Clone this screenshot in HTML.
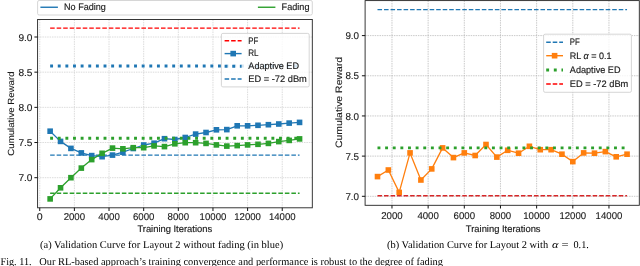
<!DOCTYPE html><html><head><meta charset="utf-8"><style>html,body{margin:0;padding:0;background:#fff;width:640px;height:266px;overflow:hidden}svg{display:block;will-change:transform}text{text-rendering:geometricPrecision}</style></head><body>
<svg width="640" height="266" viewBox="0 0 640 266">
<rect width="640" height="266" fill="#fff"/>
<line x1="39.75" y1="19.5" x2="39.75" y2="207.8" stroke="#d0d0d0" stroke-width="0.75" stroke-dasharray="1.5 0.9"/>
<line x1="74.39" y1="19.5" x2="74.39" y2="207.8" stroke="#d0d0d0" stroke-width="0.75" stroke-dasharray="1.5 0.9"/>
<line x1="109.03" y1="19.5" x2="109.03" y2="207.8" stroke="#d0d0d0" stroke-width="0.75" stroke-dasharray="1.5 0.9"/>
<line x1="143.68" y1="19.5" x2="143.68" y2="207.8" stroke="#d0d0d0" stroke-width="0.75" stroke-dasharray="1.5 0.9"/>
<line x1="178.32" y1="19.5" x2="178.32" y2="207.8" stroke="#d0d0d0" stroke-width="0.75" stroke-dasharray="1.5 0.9"/>
<line x1="212.96" y1="19.5" x2="212.96" y2="207.8" stroke="#d0d0d0" stroke-width="0.75" stroke-dasharray="1.5 0.9"/>
<line x1="247.6" y1="19.5" x2="247.6" y2="207.8" stroke="#d0d0d0" stroke-width="0.75" stroke-dasharray="1.5 0.9"/>
<line x1="282.24" y1="19.5" x2="282.24" y2="207.8" stroke="#d0d0d0" stroke-width="0.75" stroke-dasharray="1.5 0.9"/>
<line x1="37.6" y1="177.7" x2="312.3" y2="177.7" stroke="#d0d0d0" stroke-width="0.75" stroke-dasharray="1.5 0.9"/>
<line x1="37.6" y1="142.52" x2="312.3" y2="142.52" stroke="#d0d0d0" stroke-width="0.75" stroke-dasharray="1.5 0.9"/>
<line x1="37.6" y1="107.35" x2="312.3" y2="107.35" stroke="#d0d0d0" stroke-width="0.75" stroke-dasharray="1.5 0.9"/>
<line x1="37.6" y1="72.17" x2="312.3" y2="72.17" stroke="#d0d0d0" stroke-width="0.75" stroke-dasharray="1.5 0.9"/>
<line x1="37.6" y1="37" x2="312.3" y2="37" stroke="#d0d0d0" stroke-width="0.75" stroke-dasharray="1.5 0.9"/>
<line x1="50.14" y1="28.1" x2="299.56" y2="28.1" stroke="#ff0000" stroke-width="1.4" stroke-dasharray="4.55 1.97" stroke-linecap="butt"/>
<line x1="50.14" y1="66" x2="299.56" y2="66" stroke="#1f77b4" stroke-width="2.9" stroke-dasharray="2.9 4.73" stroke-linecap="butt"/>
<line x1="50.14" y1="155.1" x2="299.56" y2="155.1" stroke="#1f77b4" stroke-width="1.4" stroke-dasharray="4.55 1.97" stroke-linecap="butt"/>
<polyline points="50.14,131.2 60.54,141.4 70.93,148.4 81.32,152.9 91.71,155.6 102.11,156.7 112.5,155.1 122.89,152.2 133.28,148.5 143.68,145 154.07,143.2 164.46,138.7 174.85,139.5 185.25,137.5 195.64,134.1 206.03,132.5 216.42,129.8 226.82,129.6 237.21,125.8 247.6,125.8 257.99,125.3 268.39,124.7 278.78,124 289.17,123.1 299.56,122.4" fill="none" stroke="#1f77b4" stroke-width="1.3" stroke-linejoin="round"/>
<rect x="47.34" y="128.4" width="5.6" height="5.6" fill="#1f77b4"/>
<rect x="57.74" y="138.6" width="5.6" height="5.6" fill="#1f77b4"/>
<rect x="68.13" y="145.6" width="5.6" height="5.6" fill="#1f77b4"/>
<rect x="78.52" y="150.1" width="5.6" height="5.6" fill="#1f77b4"/>
<rect x="88.91" y="152.8" width="5.6" height="5.6" fill="#1f77b4"/>
<rect x="99.31" y="153.9" width="5.6" height="5.6" fill="#1f77b4"/>
<rect x="109.7" y="152.3" width="5.6" height="5.6" fill="#1f77b4"/>
<rect x="120.09" y="149.4" width="5.6" height="5.6" fill="#1f77b4"/>
<rect x="130.48" y="145.7" width="5.6" height="5.6" fill="#1f77b4"/>
<rect x="140.88" y="142.2" width="5.6" height="5.6" fill="#1f77b4"/>
<rect x="151.27" y="140.4" width="5.6" height="5.6" fill="#1f77b4"/>
<rect x="161.66" y="135.9" width="5.6" height="5.6" fill="#1f77b4"/>
<rect x="172.05" y="136.7" width="5.6" height="5.6" fill="#1f77b4"/>
<rect x="182.45" y="134.7" width="5.6" height="5.6" fill="#1f77b4"/>
<rect x="192.84" y="131.3" width="5.6" height="5.6" fill="#1f77b4"/>
<rect x="203.23" y="129.7" width="5.6" height="5.6" fill="#1f77b4"/>
<rect x="213.62" y="127" width="5.6" height="5.6" fill="#1f77b4"/>
<rect x="224.02" y="126.8" width="5.6" height="5.6" fill="#1f77b4"/>
<rect x="234.41" y="123" width="5.6" height="5.6" fill="#1f77b4"/>
<rect x="244.8" y="123" width="5.6" height="5.6" fill="#1f77b4"/>
<rect x="255.19" y="122.5" width="5.6" height="5.6" fill="#1f77b4"/>
<rect x="265.59" y="121.9" width="5.6" height="5.6" fill="#1f77b4"/>
<rect x="275.98" y="121.2" width="5.6" height="5.6" fill="#1f77b4"/>
<rect x="286.37" y="120.3" width="5.6" height="5.6" fill="#1f77b4"/>
<rect x="296.76" y="119.6" width="5.6" height="5.6" fill="#1f77b4"/>
<line x1="50.14" y1="138.2" x2="299.56" y2="138.2" stroke="#2ca02c" stroke-width="2.9" stroke-dasharray="2.9 4.73" stroke-linecap="butt"/>
<line x1="50.14" y1="193.3" x2="299.56" y2="193.3" stroke="#2ca02c" stroke-width="1.4" stroke-dasharray="4.55 1.97" stroke-linecap="butt"/>
<polyline points="50.14,198.9 60.54,187.8 70.93,177.7 81.32,168.1 91.71,159.6 102.11,153.3 112.5,148.1 122.89,148.8 133.28,147.7 143.68,147.7 154.07,145.9 164.46,146.6 174.85,143.8 185.25,142.7 195.64,142.7 206.03,143.4 216.42,144.9 226.82,146.1 237.21,145.6 247.6,144.9 257.99,144.3 268.39,143.4 278.78,141.6 289.17,140.4 299.56,138.9" fill="none" stroke="#2ca02c" stroke-width="1.3" stroke-linejoin="round"/>
<rect x="47.34" y="196.1" width="5.6" height="5.6" fill="#2ca02c"/>
<rect x="57.74" y="185" width="5.6" height="5.6" fill="#2ca02c"/>
<rect x="68.13" y="174.9" width="5.6" height="5.6" fill="#2ca02c"/>
<rect x="78.52" y="165.3" width="5.6" height="5.6" fill="#2ca02c"/>
<rect x="88.91" y="156.8" width="5.6" height="5.6" fill="#2ca02c"/>
<rect x="99.31" y="150.5" width="5.6" height="5.6" fill="#2ca02c"/>
<rect x="109.7" y="145.3" width="5.6" height="5.6" fill="#2ca02c"/>
<rect x="120.09" y="146" width="5.6" height="5.6" fill="#2ca02c"/>
<rect x="130.48" y="144.9" width="5.6" height="5.6" fill="#2ca02c"/>
<rect x="140.88" y="144.9" width="5.6" height="5.6" fill="#2ca02c"/>
<rect x="151.27" y="143.1" width="5.6" height="5.6" fill="#2ca02c"/>
<rect x="161.66" y="143.8" width="5.6" height="5.6" fill="#2ca02c"/>
<rect x="172.05" y="141" width="5.6" height="5.6" fill="#2ca02c"/>
<rect x="182.45" y="139.9" width="5.6" height="5.6" fill="#2ca02c"/>
<rect x="192.84" y="139.9" width="5.6" height="5.6" fill="#2ca02c"/>
<rect x="203.23" y="140.6" width="5.6" height="5.6" fill="#2ca02c"/>
<rect x="213.62" y="142.1" width="5.6" height="5.6" fill="#2ca02c"/>
<rect x="224.02" y="143.3" width="5.6" height="5.6" fill="#2ca02c"/>
<rect x="234.41" y="142.8" width="5.6" height="5.6" fill="#2ca02c"/>
<rect x="244.8" y="142.1" width="5.6" height="5.6" fill="#2ca02c"/>
<rect x="255.19" y="141.5" width="5.6" height="5.6" fill="#2ca02c"/>
<rect x="265.59" y="140.6" width="5.6" height="5.6" fill="#2ca02c"/>
<rect x="275.98" y="138.8" width="5.6" height="5.6" fill="#2ca02c"/>
<rect x="286.37" y="137.6" width="5.6" height="5.6" fill="#2ca02c"/>
<rect x="296.76" y="136.1" width="5.6" height="5.6" fill="#2ca02c"/>
<rect x="37.6" y="19.5" width="274.7" height="188.3" fill="none" stroke="#222" stroke-width="0.9"/>
<line x1="39.75" y1="207.8" x2="39.75" y2="211" stroke="#111" stroke-width="1.0"/>
<text x="39.75" y="220.2" font-size="9.85" text-anchor="middle" textLength="5.9" lengthAdjust="spacingAndGlyphs" fill="#1a1a1a" font-family='"Liberation Sans", sans-serif'  stroke="#1a1a1a" stroke-width="0.12">0</text>
<line x1="74.39" y1="207.8" x2="74.39" y2="211" stroke="#111" stroke-width="1.0"/>
<text x="74.39" y="220.2" font-size="9.85" text-anchor="middle" textLength="21.5" lengthAdjust="spacingAndGlyphs" fill="#1a1a1a" font-family='"Liberation Sans", sans-serif'  stroke="#1a1a1a" stroke-width="0.12">2000</text>
<line x1="109.03" y1="207.8" x2="109.03" y2="211" stroke="#111" stroke-width="1.0"/>
<text x="109.03" y="220.2" font-size="9.85" text-anchor="middle" textLength="21.5" lengthAdjust="spacingAndGlyphs" fill="#1a1a1a" font-family='"Liberation Sans", sans-serif'  stroke="#1a1a1a" stroke-width="0.12">4000</text>
<line x1="143.68" y1="207.8" x2="143.68" y2="211" stroke="#111" stroke-width="1.0"/>
<text x="143.68" y="220.2" font-size="9.85" text-anchor="middle" textLength="21.5" lengthAdjust="spacingAndGlyphs" fill="#1a1a1a" font-family='"Liberation Sans", sans-serif'  stroke="#1a1a1a" stroke-width="0.12">6000</text>
<line x1="178.32" y1="207.8" x2="178.32" y2="211" stroke="#111" stroke-width="1.0"/>
<text x="178.32" y="220.2" font-size="9.85" text-anchor="middle" textLength="21.5" lengthAdjust="spacingAndGlyphs" fill="#1a1a1a" font-family='"Liberation Sans", sans-serif'  stroke="#1a1a1a" stroke-width="0.12">8000</text>
<line x1="212.96" y1="207.8" x2="212.96" y2="211" stroke="#111" stroke-width="1.0"/>
<text x="212.96" y="220.2" font-size="9.85" text-anchor="middle" textLength="26.7" lengthAdjust="spacingAndGlyphs" fill="#1a1a1a" font-family='"Liberation Sans", sans-serif'  stroke="#1a1a1a" stroke-width="0.12">10000</text>
<line x1="247.6" y1="207.8" x2="247.6" y2="211" stroke="#111" stroke-width="1.0"/>
<text x="247.6" y="220.2" font-size="9.85" text-anchor="middle" textLength="26.7" lengthAdjust="spacingAndGlyphs" fill="#1a1a1a" font-family='"Liberation Sans", sans-serif'  stroke="#1a1a1a" stroke-width="0.12">12000</text>
<line x1="282.24" y1="207.8" x2="282.24" y2="211" stroke="#111" stroke-width="1.0"/>
<text x="282.24" y="220.2" font-size="9.85" text-anchor="middle" textLength="26.7" lengthAdjust="spacingAndGlyphs" fill="#1a1a1a" font-family='"Liberation Sans", sans-serif'  stroke="#1a1a1a" stroke-width="0.12">14000</text>
<line x1="34.4" y1="177.7" x2="37.6" y2="177.7" stroke="#111" stroke-width="1.0"/>
<text x="32.5" y="181.4" font-size="9.85" text-anchor="end" textLength="14.1" lengthAdjust="spacingAndGlyphs" fill="#1a1a1a" font-family='"Liberation Sans", sans-serif'  stroke="#1a1a1a" stroke-width="0.12">7.0</text>
<line x1="34.4" y1="142.52" x2="37.6" y2="142.52" stroke="#111" stroke-width="1.0"/>
<text x="32.5" y="146.22" font-size="9.85" text-anchor="end" textLength="14.1" lengthAdjust="spacingAndGlyphs" fill="#1a1a1a" font-family='"Liberation Sans", sans-serif'  stroke="#1a1a1a" stroke-width="0.12">7.5</text>
<line x1="34.4" y1="107.35" x2="37.6" y2="107.35" stroke="#111" stroke-width="1.0"/>
<text x="32.5" y="111.05" font-size="9.85" text-anchor="end" textLength="14.1" lengthAdjust="spacingAndGlyphs" fill="#1a1a1a" font-family='"Liberation Sans", sans-serif'  stroke="#1a1a1a" stroke-width="0.12">8.0</text>
<line x1="34.4" y1="72.17" x2="37.6" y2="72.17" stroke="#111" stroke-width="1.0"/>
<text x="32.5" y="75.88" font-size="9.85" text-anchor="end" textLength="14.1" lengthAdjust="spacingAndGlyphs" fill="#1a1a1a" font-family='"Liberation Sans", sans-serif'  stroke="#1a1a1a" stroke-width="0.12">8.5</text>
<line x1="34.4" y1="37" x2="37.6" y2="37" stroke="#111" stroke-width="1.0"/>
<text x="32.5" y="40.7" font-size="9.85" text-anchor="end" textLength="14.1" lengthAdjust="spacingAndGlyphs" fill="#1a1a1a" font-family='"Liberation Sans", sans-serif'  stroke="#1a1a1a" stroke-width="0.12">9.0</text>
<text x="174.75" y="232.3" font-size="9.4" text-anchor="middle" textLength="74.7" lengthAdjust="spacingAndGlyphs" fill="#1a1a1a" font-family='"Liberation Sans", sans-serif'  stroke="#1a1a1a" stroke-width="0.16">Training Iterations</text>
<g transform="translate(14,113.6) rotate(-90)">
<text x="0" y="0" font-size="8.84" text-anchor="middle" textLength="84.2" lengthAdjust="spacingAndGlyphs" fill="#1a1a1a" font-family='"Liberation Sans", sans-serif'  stroke="#1a1a1a" stroke-width="0.1">Cumulative Reward</text>
</g>
<rect x="221.4" y="33.4" width="87.8" height="53.5" rx="1.5" fill="#fff" fill-opacity="0.8" stroke="#cccccc" stroke-width="0.8"/>
<line x1="224.6" y1="40.7" x2="241.6" y2="40.7" stroke="#ff0000" stroke-width="1.4" stroke-dasharray="4.55 1.97" stroke-linecap="butt"/>
<line x1="224.6" y1="53.6" x2="241.6" y2="53.6" stroke="#1f77b4" stroke-width="1.4"/>
<rect x="230.4" y="50.8" width="5.6" height="5.6" fill="#1f77b4"/>
<line x1="224.6" y1="66.3" x2="241.6" y2="66.3" stroke="#1f77b4" stroke-width="2.9" stroke-dasharray="2.9 4.73" stroke-linecap="butt"/>
<line x1="224.6" y1="79" x2="241.6" y2="79" stroke="#1f77b4" stroke-width="1.4" stroke-dasharray="4.55 1.97" stroke-linecap="butt"/>
<text x="248.3" y="43.6" font-size="9.4" text-anchor="start" textLength="10" lengthAdjust="spacingAndGlyphs" fill="#1a1a1a" font-family='"Liberation Sans", sans-serif'  stroke="#1a1a1a" stroke-width="0.16">PF</text>
<text x="248.3" y="56" font-size="9.4" text-anchor="start" textLength="10.3" lengthAdjust="spacingAndGlyphs" fill="#1a1a1a" font-family='"Liberation Sans", sans-serif'  stroke="#1a1a1a" stroke-width="0.16">RL</text>
<text x="248.3" y="69" font-size="9.4" text-anchor="start" textLength="50.7" lengthAdjust="spacingAndGlyphs" fill="#1a1a1a" font-family='"Liberation Sans", sans-serif'  stroke="#1a1a1a" stroke-width="0.16">Adaptive ED</text>
<text x="248.3" y="81.7" font-size="9.4" text-anchor="start" textLength="58.5" lengthAdjust="spacingAndGlyphs" fill="#1a1a1a" font-family='"Liberation Sans", sans-serif'  stroke="#1a1a1a" stroke-width="0.16">ED = -72 dBm</text>
<rect x="37.6" y="0.5" width="274.7" height="14.5" rx="1.5" fill="#fff" stroke="#cccccc" stroke-width="0.8"/>
<line x1="40.4" y1="7.25" x2="57.9" y2="7.25" stroke="#1f77b4" stroke-width="1.4" stroke-linecap="butt"/>
<text x="64.1" y="10.4" font-size="9.4" text-anchor="start" textLength="41.7" lengthAdjust="spacingAndGlyphs" fill="#1a1a1a" font-family='"Liberation Sans", sans-serif'  stroke="#1a1a1a" stroke-width="0.16">No Fading</text>
<line x1="257.9" y1="7.25" x2="275.4" y2="7.25" stroke="#2ca02c" stroke-width="1.4" stroke-linecap="butt"/>
<text x="281.6" y="10.4" font-size="9.4" text-anchor="start" textLength="27.9" lengthAdjust="spacingAndGlyphs" fill="#1a1a1a" font-family='"Liberation Sans", sans-serif'  stroke="#1a1a1a" stroke-width="0.16">Fading</text>
<line x1="391.97" y1="0.6" x2="391.97" y2="205.3" stroke="#b8b8b8" stroke-width="0.75" stroke-dasharray="1.5 0.9"/>
<line x1="428.13" y1="0.6" x2="428.13" y2="205.3" stroke="#b8b8b8" stroke-width="0.75" stroke-dasharray="1.5 0.9"/>
<line x1="464.3" y1="0.6" x2="464.3" y2="205.3" stroke="#b8b8b8" stroke-width="0.75" stroke-dasharray="1.5 0.9"/>
<line x1="500.46" y1="0.6" x2="500.46" y2="205.3" stroke="#b8b8b8" stroke-width="0.75" stroke-dasharray="1.5 0.9"/>
<line x1="536.63" y1="0.6" x2="536.63" y2="205.3" stroke="#b8b8b8" stroke-width="0.75" stroke-dasharray="1.5 0.9"/>
<line x1="572.8" y1="0.6" x2="572.8" y2="205.3" stroke="#b8b8b8" stroke-width="0.75" stroke-dasharray="1.5 0.9"/>
<line x1="608.96" y1="0.6" x2="608.96" y2="205.3" stroke="#b8b8b8" stroke-width="0.75" stroke-dasharray="1.5 0.9"/>
<line x1="365.1" y1="196.3" x2="639.3" y2="196.3" stroke="#b8b8b8" stroke-width="0.75" stroke-dasharray="1.5 0.9"/>
<line x1="365.1" y1="156.12" x2="639.3" y2="156.12" stroke="#b8b8b8" stroke-width="0.75" stroke-dasharray="1.5 0.9"/>
<line x1="365.1" y1="115.95" x2="639.3" y2="115.95" stroke="#b8b8b8" stroke-width="0.75" stroke-dasharray="1.5 0.9"/>
<line x1="365.1" y1="75.78" x2="639.3" y2="75.78" stroke="#b8b8b8" stroke-width="0.75" stroke-dasharray="1.5 0.9"/>
<line x1="365.1" y1="35.6" x2="639.3" y2="35.6" stroke="#b8b8b8" stroke-width="0.75" stroke-dasharray="1.5 0.9"/>
<line x1="377.5" y1="9.65" x2="627.04" y2="9.65" stroke="#1f77b4" stroke-width="1.4" stroke-dasharray="4.55 1.97" stroke-linecap="butt"/>
<polyline points="377.5,176.6 388.35,170 399.2,192.4 410.05,152.9 420.9,180 431.75,168.9 442.6,147.9 453.45,157.6 464.3,152.9 475.15,155.5 486,144.5 496.85,157.1 507.7,150.3 518.55,153.2 529.4,146.3 540.25,149.7 551.1,149.7 561.95,154.2 572.8,161.6 583.65,152.9 594.5,153.2 605.35,151.6 616.2,156.8 627.04,154.2" fill="none" stroke="#ff7f0e" stroke-width="1.3" stroke-linejoin="round"/>
<rect x="374.7" y="173.8" width="5.6" height="5.6" fill="#ff7f0e"/>
<rect x="385.55" y="167.2" width="5.6" height="5.6" fill="#ff7f0e"/>
<rect x="396.4" y="189.6" width="5.6" height="5.6" fill="#ff7f0e"/>
<rect x="407.25" y="150.1" width="5.6" height="5.6" fill="#ff7f0e"/>
<rect x="418.1" y="177.2" width="5.6" height="5.6" fill="#ff7f0e"/>
<rect x="428.95" y="166.1" width="5.6" height="5.6" fill="#ff7f0e"/>
<rect x="439.8" y="145.1" width="5.6" height="5.6" fill="#ff7f0e"/>
<rect x="450.65" y="154.8" width="5.6" height="5.6" fill="#ff7f0e"/>
<rect x="461.5" y="150.1" width="5.6" height="5.6" fill="#ff7f0e"/>
<rect x="472.35" y="152.7" width="5.6" height="5.6" fill="#ff7f0e"/>
<rect x="483.2" y="141.7" width="5.6" height="5.6" fill="#ff7f0e"/>
<rect x="494.05" y="154.3" width="5.6" height="5.6" fill="#ff7f0e"/>
<rect x="504.9" y="147.5" width="5.6" height="5.6" fill="#ff7f0e"/>
<rect x="515.75" y="150.4" width="5.6" height="5.6" fill="#ff7f0e"/>
<rect x="526.6" y="143.5" width="5.6" height="5.6" fill="#ff7f0e"/>
<rect x="537.45" y="146.9" width="5.6" height="5.6" fill="#ff7f0e"/>
<rect x="548.3" y="146.9" width="5.6" height="5.6" fill="#ff7f0e"/>
<rect x="559.15" y="151.4" width="5.6" height="5.6" fill="#ff7f0e"/>
<rect x="570" y="158.8" width="5.6" height="5.6" fill="#ff7f0e"/>
<rect x="580.85" y="150.1" width="5.6" height="5.6" fill="#ff7f0e"/>
<rect x="591.7" y="150.4" width="5.6" height="5.6" fill="#ff7f0e"/>
<rect x="602.55" y="148.8" width="5.6" height="5.6" fill="#ff7f0e"/>
<rect x="613.4" y="154" width="5.6" height="5.6" fill="#ff7f0e"/>
<rect x="624.25" y="151.4" width="5.6" height="5.6" fill="#ff7f0e"/>
<line x1="377.5" y1="147.9" x2="627.04" y2="147.9" stroke="#2ca02c" stroke-width="2.9" stroke-dasharray="2.9 4.73" stroke-linecap="butt"/>
<line x1="377.5" y1="195.8" x2="627.04" y2="195.8" stroke="#d62728" stroke-width="1.4" stroke-dasharray="4.55 1.97" stroke-linecap="butt"/>
<rect x="365.1" y="0.6" width="274.2" height="204.7" fill="none" stroke="#222" stroke-width="0.9"/>
<line x1="391.97" y1="205.3" x2="391.97" y2="208.5" stroke="#111" stroke-width="1.0"/>
<text x="391.97" y="218.7" font-size="9.85" text-anchor="middle" textLength="21.5" lengthAdjust="spacingAndGlyphs" fill="#1a1a1a" font-family='"Liberation Sans", sans-serif'  stroke="#1a1a1a" stroke-width="0.12">2000</text>
<line x1="428.13" y1="205.3" x2="428.13" y2="208.5" stroke="#111" stroke-width="1.0"/>
<text x="428.13" y="218.7" font-size="9.85" text-anchor="middle" textLength="21.5" lengthAdjust="spacingAndGlyphs" fill="#1a1a1a" font-family='"Liberation Sans", sans-serif'  stroke="#1a1a1a" stroke-width="0.12">4000</text>
<line x1="464.3" y1="205.3" x2="464.3" y2="208.5" stroke="#111" stroke-width="1.0"/>
<text x="464.3" y="218.7" font-size="9.85" text-anchor="middle" textLength="21.5" lengthAdjust="spacingAndGlyphs" fill="#1a1a1a" font-family='"Liberation Sans", sans-serif'  stroke="#1a1a1a" stroke-width="0.12">6000</text>
<line x1="500.46" y1="205.3" x2="500.46" y2="208.5" stroke="#111" stroke-width="1.0"/>
<text x="500.46" y="218.7" font-size="9.85" text-anchor="middle" textLength="21.5" lengthAdjust="spacingAndGlyphs" fill="#1a1a1a" font-family='"Liberation Sans", sans-serif'  stroke="#1a1a1a" stroke-width="0.12">8000</text>
<line x1="536.63" y1="205.3" x2="536.63" y2="208.5" stroke="#111" stroke-width="1.0"/>
<text x="536.63" y="218.7" font-size="9.85" text-anchor="middle" textLength="26.7" lengthAdjust="spacingAndGlyphs" fill="#1a1a1a" font-family='"Liberation Sans", sans-serif'  stroke="#1a1a1a" stroke-width="0.12">10000</text>
<line x1="572.8" y1="205.3" x2="572.8" y2="208.5" stroke="#111" stroke-width="1.0"/>
<text x="572.8" y="218.7" font-size="9.85" text-anchor="middle" textLength="26.7" lengthAdjust="spacingAndGlyphs" fill="#1a1a1a" font-family='"Liberation Sans", sans-serif'  stroke="#1a1a1a" stroke-width="0.12">12000</text>
<line x1="608.96" y1="205.3" x2="608.96" y2="208.5" stroke="#111" stroke-width="1.0"/>
<text x="608.96" y="218.7" font-size="9.85" text-anchor="middle" textLength="26.7" lengthAdjust="spacingAndGlyphs" fill="#1a1a1a" font-family='"Liberation Sans", sans-serif'  stroke="#1a1a1a" stroke-width="0.12">14000</text>
<line x1="361.9" y1="196.3" x2="365.1" y2="196.3" stroke="#111" stroke-width="1.0"/>
<text x="359.1" y="200" font-size="9.85" text-anchor="end" textLength="13.7" lengthAdjust="spacingAndGlyphs" fill="#1a1a1a" font-family='"Liberation Sans", sans-serif'  stroke="#1a1a1a" stroke-width="0.12">7.0</text>
<line x1="361.9" y1="156.12" x2="365.1" y2="156.12" stroke="#111" stroke-width="1.0"/>
<text x="359.1" y="159.82" font-size="9.85" text-anchor="end" textLength="13.7" lengthAdjust="spacingAndGlyphs" fill="#1a1a1a" font-family='"Liberation Sans", sans-serif'  stroke="#1a1a1a" stroke-width="0.12">7.5</text>
<line x1="361.9" y1="115.95" x2="365.1" y2="115.95" stroke="#111" stroke-width="1.0"/>
<text x="359.1" y="119.65" font-size="9.85" text-anchor="end" textLength="13.7" lengthAdjust="spacingAndGlyphs" fill="#1a1a1a" font-family='"Liberation Sans", sans-serif'  stroke="#1a1a1a" stroke-width="0.12">8.0</text>
<line x1="361.9" y1="75.78" x2="365.1" y2="75.78" stroke="#111" stroke-width="1.0"/>
<text x="359.1" y="79.48" font-size="9.85" text-anchor="end" textLength="13.7" lengthAdjust="spacingAndGlyphs" fill="#1a1a1a" font-family='"Liberation Sans", sans-serif'  stroke="#1a1a1a" stroke-width="0.12">8.5</text>
<line x1="361.9" y1="35.6" x2="365.1" y2="35.6" stroke="#111" stroke-width="1.0"/>
<text x="359.1" y="39.3" font-size="9.85" text-anchor="end" textLength="13.7" lengthAdjust="spacingAndGlyphs" fill="#1a1a1a" font-family='"Liberation Sans", sans-serif'  stroke="#1a1a1a" stroke-width="0.12">9.0</text>
<text x="503.2" y="232.3" font-size="9.4" text-anchor="middle" textLength="74.7" lengthAdjust="spacingAndGlyphs" fill="#1a1a1a" font-family='"Liberation Sans", sans-serif'  stroke="#1a1a1a" stroke-width="0.16">Training Iterations</text>
<g transform="translate(341.5,102.5) rotate(-90)">
<text x="0" y="0" font-size="9.29" text-anchor="middle" textLength="91.2" lengthAdjust="spacingAndGlyphs" fill="#1a1a1a" font-family='"Liberation Sans", sans-serif'  stroke="#1a1a1a" stroke-width="0.1">Cumulative Reward</text>
</g>
<rect x="543.6" y="34.2" width="87.8" height="58.1" rx="1.5" fill="#fff" fill-opacity="0.8" stroke="#cccccc" stroke-width="0.8"/>
<line x1="546.2" y1="42.2" x2="563" y2="42.2" stroke="#1f77b4" stroke-width="1.4" stroke-dasharray="4.55 1.97" stroke-linecap="butt"/>
<line x1="546.2" y1="55.7" x2="563" y2="55.7" stroke="#ff7f0e" stroke-width="1.4"/>
<rect x="551.8" y="52.9" width="5.6" height="5.6" fill="#ff7f0e"/>
<line x1="546.2" y1="70" x2="563" y2="70" stroke="#2ca02c" stroke-width="2.9" stroke-dasharray="2.9 4.73" stroke-linecap="butt"/>
<line x1="546.2" y1="84" x2="563" y2="84" stroke="#ff0000" stroke-width="1.4" stroke-dasharray="4.55 1.97" stroke-linecap="butt"/>
<text x="569.8" y="44.9" font-size="9.4" text-anchor="start" textLength="10" lengthAdjust="spacingAndGlyphs" fill="#1a1a1a" font-family='"Liberation Sans", sans-serif'  stroke="#1a1a1a" stroke-width="0.16">PF</text>
<text x="569.8" y="58.5" font-size="9.4" text-anchor="start" textLength="41.6" lengthAdjust="spacingAndGlyphs" fill="#1a1a1a" font-family='"Liberation Sans", sans-serif'  stroke="#1a1a1a" stroke-width="0.16">RL <tspan font-style="italic">α</tspan> = 0.1</text>
<text x="569.8" y="72.9" font-size="9.4" text-anchor="start" textLength="50.7" lengthAdjust="spacingAndGlyphs" fill="#1a1a1a" font-family='"Liberation Sans", sans-serif'  stroke="#1a1a1a" stroke-width="0.16">Adaptive ED</text>
<text x="569.8" y="86.7" font-size="9.4" text-anchor="start" textLength="58.5" lengthAdjust="spacingAndGlyphs" fill="#1a1a1a" font-family='"Liberation Sans", sans-serif'  stroke="#1a1a1a" stroke-width="0.16">ED = -72 dBm</text>
<text x="40" y="247.8" font-size="10.4" text-anchor="start" textLength="243.2" lengthAdjust="spacingAndGlyphs" fill="#000" font-family='"Liberation Serif", serif' >(a) Validation Curve for Layout 2 without fading (in blue)</text>
<text x="387" y="247.8" font-size="10.4" text-anchor="start" textLength="161.1" lengthAdjust="spacingAndGlyphs" fill="#000" font-family='"Liberation Serif", serif' >(b) Validation Curve for Layout 2 with</text>
<text x="551.9" y="247.8" font-size="10.4" text-anchor="start" textLength="6.5" lengthAdjust="spacingAndGlyphs" fill="#000" font-family='"Liberation Serif", serif' font-style="italic">α</text>
<text x="561.6" y="247.8" font-size="10.4" text-anchor="start" textLength="7.1" lengthAdjust="spacingAndGlyphs" fill="#000" font-family='"Liberation Serif", serif' >=</text>
<text x="573.5" y="247.8" font-size="10.4" text-anchor="start" textLength="15.3" lengthAdjust="spacingAndGlyphs" fill="#000" font-family='"Liberation Serif", serif' >0.1.</text>
<text x="0.6" y="265.4" font-size="10.5" text-anchor="start" textLength="30.9" lengthAdjust="spacingAndGlyphs" fill="#000" font-family='"Liberation Serif", serif' >Fig. 11.</text>
<text x="39.3" y="265.4" font-size="10.5" text-anchor="start" textLength="403.7" lengthAdjust="spacingAndGlyphs" fill="#000" font-family='"Liberation Serif", serif' >Our RL-based approach’s training convergence and performance is robust to the degree of fading</text>
</svg></body></html>
